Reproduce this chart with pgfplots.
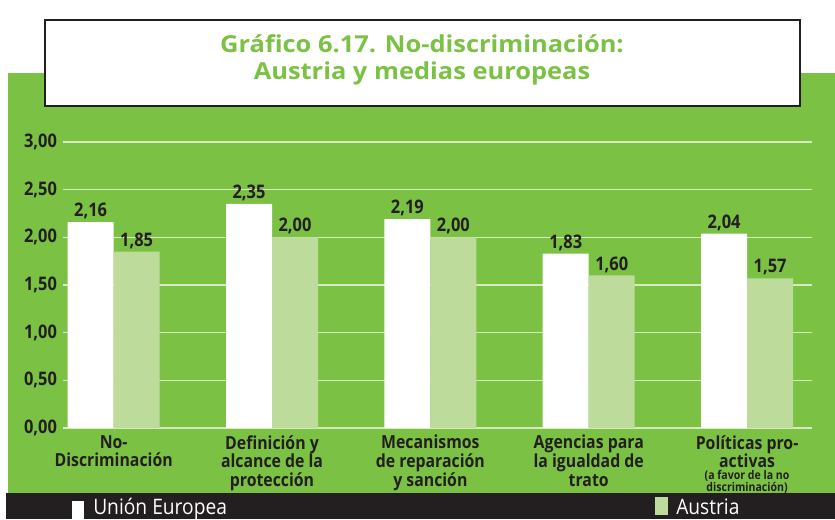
\documentclass[border=0pt]{standalone}
\usepackage{pgfplots}
\pgfplotsset{compat=1.18}
\usepackage{fontspec}
\setmainfont{Open Sans}
\newfontfamily\condfont{Open Sans}[FakeStretch=0.88]
\newfontfamily\titlefont{Open Sans}[FakeStretch=1.09]
\newfontfamily\legfont{Open Sans}[FakeStretch=0.9]
\definecolor{bggreen}{RGB}{123,193,67}
\definecolor{austria}{RGB}{189,220,155}
\definecolor{darktext}{RGB}{35,31,32}
\definecolor{gridc}{RGB}{214,234,190}
\begin{document}
\begin{tikzpicture}[x=0.75pt,y=0.75pt]
\clip (0,0) rectangle (835,519);
\fill[white] (0,0) rectangle (835,519);
\fill[bggreen] (8,26) rectangle (835,446);
\fill[darktext] (6,0) rectangle (835,26);
\filldraw[fill=white,draw=darktext,line width=1.5pt] (45,413) rectangle (800,499);
\node[text=bggreen,font=\titlefont\fontsize{17.5}{21}\selectfont\bfseries] at (422,475) {Gráfico 6.17. No-discriminación:};
\node[text=bggreen,font=\titlefont\fontsize{17.5}{21}\selectfont\bfseries] at (422,446) {Austria y medias europeas};
\begin{axis}[
  at={(47.25pt,68.25pt)}, anchor=south west, scale only axis,
  width=561.75pt, height=214.5pt,
  xmin=-0.32, xmax=4.41, ymin=0, ymax=3,
  ytick={0,0.5,1,1.5,2,2.5,3},
  xtick={0,1,2,3,4},
  xticklabels={{No-\\Discriminación},{Definición y\\alcance de la\\protección},{Mecanismos\\de reparación\\y sanción},{Agencias para\\la igualdad de\\trato},{Políticas pro-\\activas\\[-5pt]{\fontsize{9}{9}\selectfont (a favor de la no}\\[-5pt]{\fontsize{9}{9}\selectfont discriminación)}}},
  axis line style={draw=none},
  major tick style={draw=none},
  ymajorgrids, grid style={gridc,line width=1pt},
  /pgf/number format/.cd, use comma, fixed, fixed zerofill, precision=2, assume math mode=true,
  /pgfplots/.cd,
  yticklabel style={font=\condfont\fontsize{14}{14}\selectfont\bfseries,text=darktext,xshift=-1pt},
  xticklabel style={align=center,font=\condfont\fontsize{13.5}{13.9}\selectfont\bfseries,text=darktext,anchor=north,inner sep=1pt},
  ybar=0pt, bar width=34.5pt,
  nodes near coords,
  every node near coord/.append style={font=\condfont\fontsize{14}{14}\selectfont\bfseries,text=darktext,inner sep=2pt},
]
\addplot[fill=white,draw=none] coordinates {(0,2.16)(1,2.35)(2,2.19)(3,1.83)(4,2.04)};
\addplot[fill=austria,draw=none] coordinates {(0,1.85)(1,2.00)(2,2.00)(3,1.60)(4,1.57)};
\end{axis}
\fill[white] (72,0) rectangle (84,18);
\node[anchor=base west,text=white,font=\legfont\fontsize{16}{16}\selectfont,inner sep=0pt] at (93,5) {Unión Europea};
\fill[austria] (655,4) rectangle (668,22);
\node[anchor=base west,text=white,font=\legfont\fontsize{16}{16}\selectfont,inner sep=0pt] at (676,5) {Austria};
\end{tikzpicture}
\end{document}
